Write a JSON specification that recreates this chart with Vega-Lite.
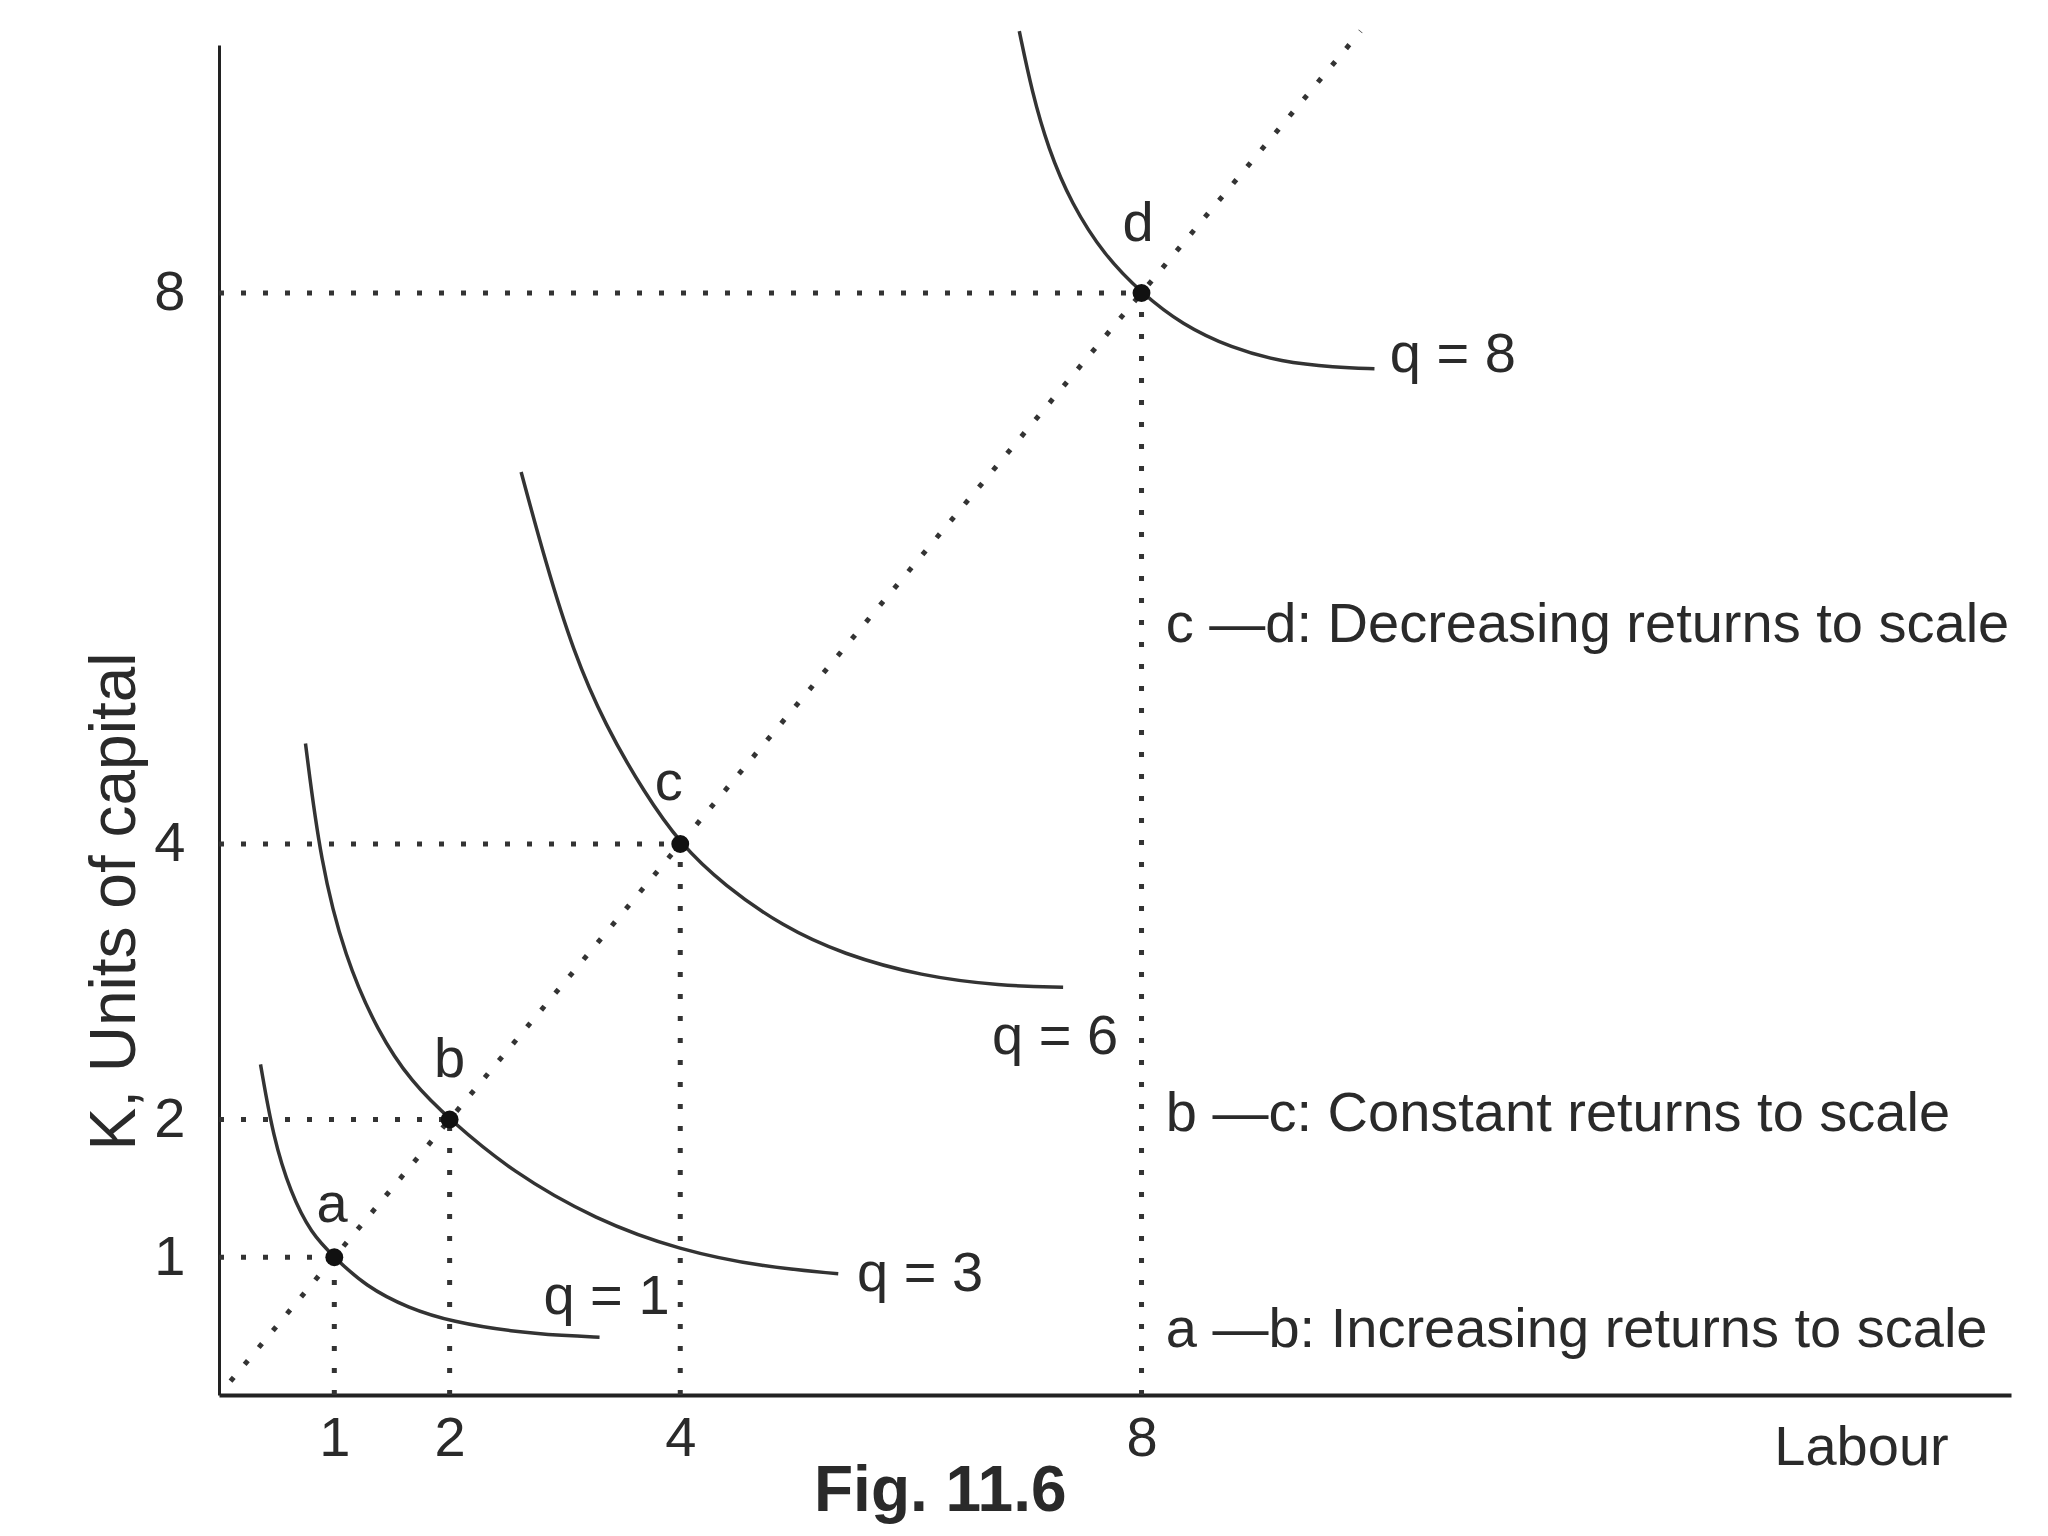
{
  "$schema": "https://vega.github.io/schema/vega-lite/v6.json",
  "width": 1792,
  "height": 1350,
  "autosize": "none",
  "padding": {"left": 219, "top": 45, "right": 37, "bottom": 141},
  "background": "white",
  "config": {"view": {"stroke": null}, "font": "Liberation Sans"},
  "title": {"text": "Fig. 11.6", "orient": "bottom", "anchor": "start", "dx": 731, "offset": -15, "fontSize": 64, "fontWeight": "bold", "font": "Liberation Sans", "color": "#2a2a2a"},
  "datasets": {
    "guides": [
      {"x": 0, "y": 1, "x2": 1, "y2": 1},
      {"x": 1, "y": 0, "x2": 1, "y2": 1},
      {"x": 0, "y": 2, "x2": 2, "y2": 2},
      {"x": 2, "y": 0, "x2": 2, "y2": 2},
      {"x": 0, "y": 4, "x2": 4, "y2": 4},
      {"x": 4, "y": 0, "x2": 4, "y2": 4},
      {"x": 0, "y": 8, "x2": 8, "y2": 8},
      {"x": 8, "y": 0, "x2": 8, "y2": 8},
      {"x": 0.1, "y": 0.1, "x2": 9.9, "y2": 9.9}
    ],
    "curves": [
      {"q": "q1", "x": 0.36, "y": 2.40},
      {"q": "q1", "x": 0.47, "y": 1.87},
      {"q": "q1", "x": 0.62, "y": 1.47},
      {"q": "q1", "x": 0.80, "y": 1.17},
      {"q": "q1", "x": 1.0, "y": 1.0},
      {"q": "q1", "x": 1.27, "y": 0.79},
      {"q": "q1", "x": 1.64, "y": 0.63},
      {"q": "q1", "x": 2.03, "y": 0.53},
      {"q": "q1", "x": 2.54, "y": 0.46},
      {"q": "q1", "x": 3.00, "y": 0.43},
      {"q": "q1", "x": 3.30, "y": 0.42},
      {"q": "q3", "x": 0.75, "y": 4.73},
      {"q": "q3", "x": 0.88, "y": 3.87},
      {"q": "q3", "x": 1.09, "y": 3.18},
      {"q": "q3", "x": 1.38, "y": 2.63},
      {"q": "q3", "x": 1.67, "y": 2.27},
      {"q": "q3", "x": 2.0, "y": 2.0},
      {"q": "q3", "x": 2.54, "y": 1.62},
      {"q": "q3", "x": 3.27, "y": 1.27},
      {"q": "q3", "x": 4.0, "y": 1.05},
      {"q": "q3", "x": 4.72, "y": 0.93},
      {"q": "q3", "x": 5.37, "y": 0.88},
      {"q": "q6", "x": 2.62, "y": 6.70},
      {"q": "q6", "x": 2.83, "y": 6.05},
      {"q": "q6", "x": 3.07, "y": 5.40},
      {"q": "q6", "x": 3.35, "y": 4.86},
      {"q": "q6", "x": 3.69, "y": 4.37},
      {"q": "q6", "x": 4.0, "y": 4.0},
      {"q": "q6", "x": 4.38, "y": 3.70},
      {"q": "q6", "x": 4.89, "y": 3.40},
      {"q": "q6", "x": 5.41, "y": 3.20},
      {"q": "q6", "x": 6.09, "y": 3.04},
      {"q": "q6", "x": 6.78, "y": 2.97},
      {"q": "q6", "x": 7.32, "y": 2.96},
      {"q": "q8", "x": 6.94, "y": 9.90},
      {"q": "q8", "x": 7.05, "y": 9.46},
      {"q": "q8", "x": 7.19, "y": 9.05},
      {"q": "q8", "x": 7.39, "y": 8.65},
      {"q": "q8", "x": 7.68, "y": 8.27},
      {"q": "q8", "x": 8.0, "y": 8.0},
      {"q": "q8", "x": 8.35, "y": 7.77},
      {"q": "q8", "x": 8.78, "y": 7.60},
      {"q": "q8", "x": 9.21, "y": 7.50},
      {"q": "q8", "x": 9.68, "y": 7.46},
      {"q": "q8", "x": 10.02, "y": 7.45}
    ],
    "points": [
      {"x": 1, "y": 1},
      {"x": 2, "y": 2},
      {"x": 4, "y": 4},
      {"x": 8, "y": 8}
    ],
    "labels": [
      {"x": 0.98, "y": 1.38, "t": "a"},
      {"x": 2.0, "y": 2.43, "t": "b"},
      {"x": 3.9, "y": 4.44, "t": "c"},
      {"x": 7.97, "y": 8.5, "t": "d"},
      {"x": 3.36, "y": 0.71, "t": "q = 1"},
      {"x": 6.08, "y": 0.88, "t": "q = 3"},
      {"x": 7.25, "y": 2.6, "t": "q = 6"},
      {"x": 10.7, "y": 7.55, "t": "q = 8"}
    ],
    "notes": [
      {"x": 8.21, "y": 5.59, "t": "c —d: Decreasing returns to scale"},
      {"x": 8.21, "y": 2.04, "t": "b —c: Constant returns to scale"},
      {"x": 8.21, "y": 0.47, "t": "a —b: Increasing returns to scale"}
    ]
  },
  "encoding": {
    "x": {
      "field": "x", "type": "quantitative",
      "scale": {"domain": [0, 15.54], "nice": false, "zero": false},
      "axis": {
        "values": [1, 2, 4, 8], "title": "Labour", "ticks": false, "tickSize": 0, "grid": false,
        "domainColor": "#222", "domainWidth": 4,
        "labelFont": "Liberation Sans", "labelFontSize": 56, "labelColor": "#2a2a2a", "labelPadding": 16, "labelFlush": false,
        "titleFont": "Liberation Sans", "titleFontSize": 56, "titleFontWeight": "normal", "titleColor": "#2a2a2a",
        "titleX": 1642, "titleY": 52, "titleAlign": "center", "titleBaseline": "middle"
      }
    },
    "y": {
      "field": "y", "type": "quantitative",
      "scale": {"domain": [0, 9.8], "nice": false, "zero": false},
      "axis": {
        "values": [1, 2, 4, 8], "title": "K, Units of capital", "ticks": false, "tickSize": 0, "grid": false,
        "domainColor": "#222", "domainWidth": 3,
        "labelFont": "Liberation Sans", "labelFontSize": 56, "labelColor": "#2a2a2a", "labelPadding": 34,
        "titleFont": "Liberation Sans", "titleFontSize": 64, "titleFontWeight": "normal", "titleColor": "#2a2a2a",
        "titleX": -104, "titleY": 856, "titleAngle": -90, "titleAlign": "center", "titleBaseline": "middle"
      }
    }
  },
  "layer": [
    {
      "data": {"name": "guides"},
      "mark": {"type": "rule", "strokeDash": [5, 17], "strokeWidth": 5, "color": "#333"},
      "encoding": {"x2": {"field": "x2"}, "y2": {"field": "y2"}}
    },
    {
      "data": {"name": "curves"},
      "mark": {"type": "line", "interpolate": "basis", "strokeWidth": 3.5, "color": "#333"},
      "encoding": {"detail": {"field": "q"}}
    },
    {
      "data": {"name": "points"},
      "mark": {"type": "circle", "size": 320, "opacity": 1, "color": "#111"}
    },
    {
      "data": {"name": "labels"},
      "mark": {"type": "text", "fontSize": 56, "font": "Liberation Sans", "color": "#2a2a2a", "align": "center", "baseline": "middle"},
      "encoding": {"text": {"field": "t"}}
    },
    {
      "data": {"name": "notes"},
      "mark": {"type": "text", "fontSize": 56, "font": "Liberation Sans", "color": "#2a2a2a", "align": "left", "baseline": "middle"},
      "encoding": {"text": {"field": "t"}}
    }
  ]
}
